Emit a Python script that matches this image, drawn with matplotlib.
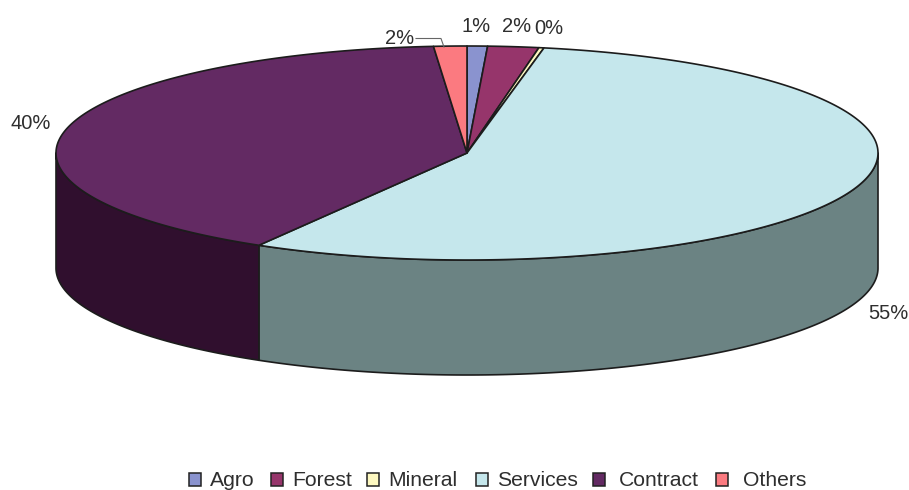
import numpy as np
import matplotlib
matplotlib.use("Agg")
import matplotlib.pyplot as plt
from matplotlib.patches import Polygon, Rectangle

categories = ["Agro", "Forest", "Mineral", "Services", "Contract", "Others"]
shares = [0.8, 2.0, 0.2, 55.45, 40.25, 1.3]
value_labels = ["1%", "2%", "0%", "55%", "40%", "2%"]
top_colors = ["#8a93cf", "#96356b", "#fdf8c0", "#c5e7ec", "#632a63", "#fb7a80"]
side_colors = ["#565c82", "#5e2143", "#9e9b78", "#6b8383", "#300f2e", "#9d4c50"]

W, H = 909, 490
CX, CY, RX, RY, DEPTH = 467, 153, 411, 107, 115
EDGE = "#1c1c1c"
TEXT = "#2e2e2e"

plt.rcParams["font.family"] = ["Liberation Sans", "DejaVu Sans"]
fig = plt.figure(figsize=(W / 100, H / 100), dpi=100)
ax = fig.add_axes([0, 0, 1, 1])
ax.set_xlim(0, W)
ax.set_ylim(H, 0)
ax.axis("off")


def rim(a0, a1, dy=0.0):
    t = np.radians(np.linspace(a0, a1, max(2, int(abs(a1 - a0) * 2) + 2)))
    return np.column_stack([CX + RX * np.sin(t), CY + dy - RY * np.cos(t)])


edges = np.concatenate([[0], np.cumsum(shares)]) / np.sum(shares) * 360

# Side wall: only the front half (90deg..270deg) is visible
for i, col in enumerate(side_colors):
    a0, a1 = max(edges[i], 90), min(edges[i + 1], 270)
    if a1 > a0:
        pts = np.vstack([rim(a0, a1), rim(a0, a1, DEPTH)[::-1]])
        ax.add_patch(Polygon(pts, closed=True, fc=col, ec=EDGE, lw=1.2, joinstyle="round", zorder=2))

# Top face
for i, col in enumerate(top_colors):
    pts = np.vstack([[CX, CY], rim(edges[i], edges[i + 1])])
    ax.add_patch(Polygon(pts, closed=True, fc=col, ec=EDGE, lw=1.2, joinstyle="round", zorder=3))

# Value labels
label_pos = [(476, 27), (517, 27), (549, 28), (888, 313), (31, 123), (400, 39)]
for (x, y), s in zip(label_pos, value_labels):
    ax.text(x, y, s, ha="center", va="center", fontsize=14.5, color=TEXT, zorder=5)

# Leader line for the "Others" label
ax.plot([416, 441, 444], [38.5, 38.5, 47], color="#666666", lw=0.8, zorder=4)

# Legend
legend_sw = [189, 271, 367, 476, 593, 716]
legend_tx = [210, 292, 388, 497, 619, 743]
for sx, tx, name, col in zip(legend_sw, legend_tx, categories, top_colors):
    ax.add_patch(Rectangle((sx, 473), 12, 13, fc=col, ec="#222222", lw=1.1, zorder=3))
    ax.text(tx, 480, name, ha="left", va="center", fontsize=15.2, color=TEXT)

fig.savefig("out.png", dpi=100)
